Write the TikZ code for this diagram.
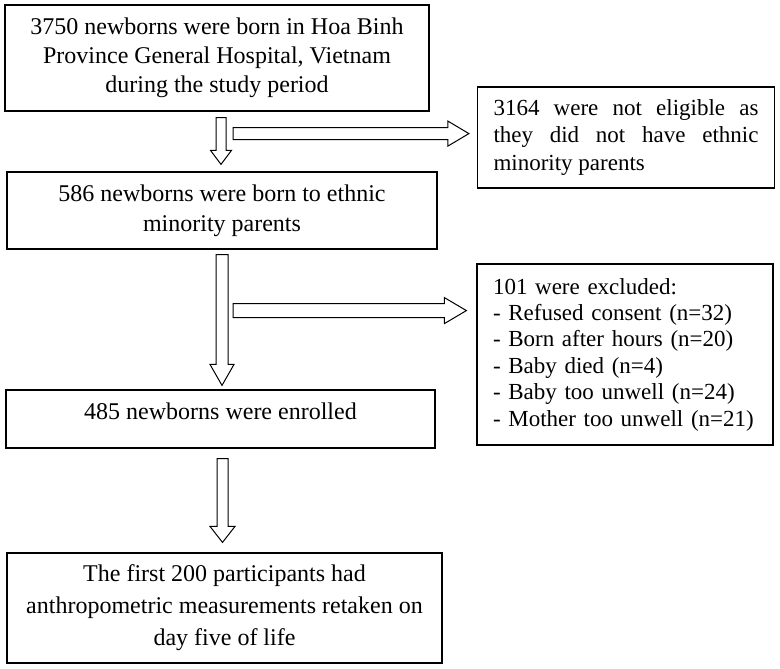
\documentclass[tikz,border=0pt]{standalone}
\usepackage{fontspec}
\setmainfont{Liberation Serif}
\usepackage{tikz}
\usetikzlibrary{calc, positioning}
\tikzset{
  flowbox/.style = {draw, line width=1.2pt, inner sep=0pt, align=center, font=\fontsize{24}{29}\selectfont},
  sidebox/.style = {flowbox, inner xsep=16pt},
  fatarrow/.style = {draw, line width=1pt, fill=white, line join=miter}
}

\begin{document}
\begin{tikzpicture}[x=1pt, y=-1pt]
  \useasboundingbox (0,0) rectangle (780,669);

  \node[flowbox, minimum width=424pt, minimum height=106pt] (born) at (217,58)
    {3750 newborns were born in Hoa Binh\\Province General Hospital, Vietnam\\during the study period};
  \node[flowbox, minimum width=430pt, minimum height=77pt, font=\fontsize{24}{30}\selectfont] (minor) at (222,210.5)
    {586 newborns were born to ethnic\\minority parents};
  \node[flowbox, minimum width=429pt, text height=29pt, text depth=29pt] (enrol) at (220.5,419)
    {485 newborns were enrolled};
  \node[flowbox, minimum width=435pt, minimum height=110pt, font=\fontsize{24}{32}\selectfont] (retake) at (224.5,608)
    {The first 200 participants had\\anthropometric measurements retaken on\\day five of life};

  \node[sidebox, text width=265pt, align=justify, minimum height=101pt, font=\fontsize{23}{27.5}\selectfont] (notelig) at (626,137.5)
    {\tolerance=9999\hyphenpenalty=10000\relax 3164 were not eligible as they did not have ethnic \mbox{minority} parents\par};
  \node[sidebox, text width=264pt, align=left, minimum height=181pt, font=\fontsize{23}{26.4}\selectfont] (excl) at (625,354.5)
    {101 were excluded:\\- Refused consent (n=32)\\- Born after hours (n=20)\\- Baby died (n=4)\\- Baby too unwell (n=24)\\- Mother too unwell (n=21)};

  % block arrows down the main column
  \coordinate (s1) at ($(born.south)+(4,6)$);
  \coordinate (t1) at ($(s1 |- minor.north)+(0,-7)$);
  \coordinate (s2) at ($(minor.south)+(0,5)$);
  \coordinate (t2) at ($(s2 |- enrol.north)+(0,-4)$);
  \coordinate (s3) at ($(enrol.south)+(2,10)$);
  \coordinate (t3) at ($(s3 |- retake.north)+(0,-10)$);
  \draw[fatarrow] ($(s1)+(-5,0)$) -- ($(s1)+(5,0)$) -- ($(t1)+(5,-14)$) -- ($(t1)+(10.5,-14)$) -- (t1)
    -- ($(t1)+(-10.5,-14)$) -- ($(t1)+(-5,-14)$) -- cycle;
  \draw[fatarrow] ($(s2)+(-6,0)$) -- ($(s2)+(6,0)$) -- ($(t2)+(6,-21)$) -- ($(t2)+(12,-21)$) -- (t2)
    -- ($(t2)+(-12,-21)$) -- ($(t2)+(-6,-21)$) -- cycle;
  \draw[fatarrow] ($(s3)+(-5.5,0)$) -- ($(s3)+(5.5,0)$) -- ($(t3)+(5.5,-16)$) -- ($(t3)+(12.5,-16)$) -- (t3)
    -- ($(t3)+(-12.5,-16)$) -- ($(t3)+(-5.5,-16)$) -- cycle;

  % block arrows to the side boxes
  \coordinate (r1) at ($(s1)+(12,16)$);
  \coordinate (e1) at ($(r1 -| notelig.west)+(-8,0)$);
  \coordinate (r2) at ($(s2)+(11,56)$);
  \coordinate (e2) at ($(r2 -| excl.west)+(-10,0)$);
  \draw[fatarrow] ($(r1)+(0,-6)$) -- ($(e1)+(-21,-6)$) -- ($(e1)+(-21,-12.5)$) -- (e1)
    -- ($(e1)+(-21,12.5)$) -- ($(e1)+(-21,6)$) -- ($(r1)+(0,6)$) -- cycle;
  \draw[fatarrow] ($(r2)+(0,-7)$) -- ($(e2)+(-22,-7)$) -- ($(e2)+(-22,-13)$) -- (e2)
    -- ($(e2)+(-22,13)$) -- ($(e2)+(-22,7)$) -- ($(r2)+(0,7)$) -- cycle;
\end{tikzpicture}
\end{document}
